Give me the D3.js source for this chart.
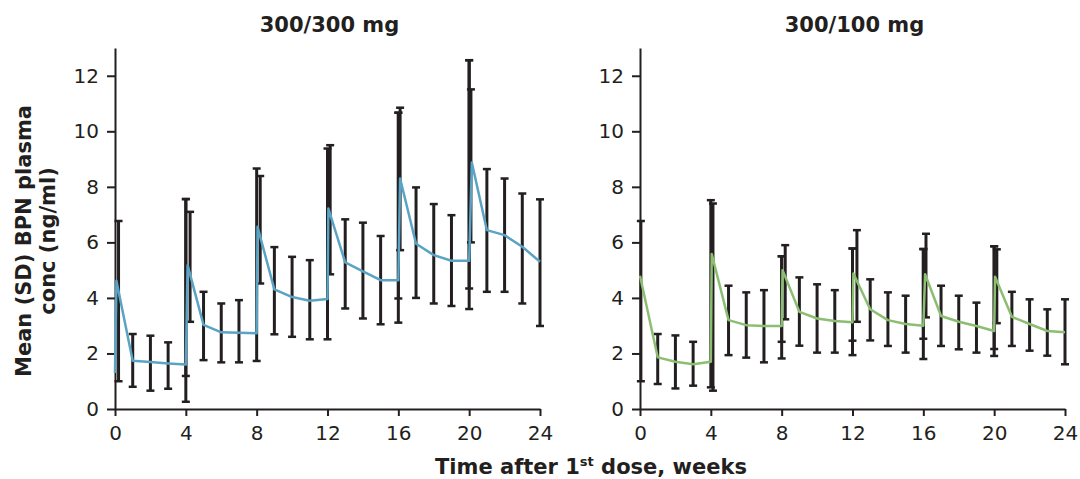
<!DOCTYPE html>
<html>
<head>
<meta charset="utf-8">
<script src="https://cdn.jsdelivr.net/npm/d3@7"></script>
<style>
  body { margin: 0; background: #fff; }
  text { fill: #231f20; }
</style>
</head>
<body>
<svg id="chart"></svg>
<script>
var width = 1080, height = 479;
var ink = "#231f20";
var boldFont = "'DejaVu Sans', sans-serif";

var panelTitles = ["300/300 mg", "300/100 mg"];
var xTicks = [0, 4, 8, 12, 16, 20, 24];
var yTicks = [0, 2, 4, 6, 8, 10, 12];

// 300/300 mg: mean line
var hiLineT = [0, 0.08, 1, 2, 3, 4, 4.1, 5, 6, 7, 8, 8.05, 9, 10, 11, 12, 12.05, 13, 14, 15, 16, 16.1, 17, 18, 19, 20, 20.15, 21, 22, 23, 24];
var hiLineY = [1.3, 4.62, 1.74, 1.69, 1.64, 1.60, 5.18, 3.03, 2.76, 2.75, 2.73, 6.56, 4.31, 4.03, 3.90, 3.96, 7.22, 5.28, 4.96, 4.64, 4.64, 8.30, 5.95, 5.54, 5.34, 5.34, 8.88, 6.44, 6.26, 5.84, 5.30];
// 300/300 mg: SD bars
var hiBarT  = [0.2, 1, 2, 3, 4, 4, 4.24, 5, 6, 7, 8, 8.2, 9, 10, 11, 12, 12.15, 13, 14, 15, 16, 16, 16.1, 17, 18, 19, 20, 20, 20.1, 21, 22, 23, 24];
var hiBarLo = [1.00, 0.80, 0.66, 0.73, 0.26, 1.19, 3.14, 1.76, 1.68, 1.68, 1.73, 4.52, 2.69, 2.60, 2.51, 2.51, 4.85, 3.62, 3.26, 3.05, 3.11, 3.98, 5.72, 4.00, 3.80, 3.71, 3.60, 4.34, 6.00, 4.22, 4.22, 3.80, 2.99];
var hiBarHi = [6.77, 2.70, 2.64, 2.40, 7.56, 7.56, 7.10, 4.22, 3.80, 3.92, 8.66, 8.39, 5.83, 5.48, 5.36, 9.38, 9.50, 6.83, 6.71, 6.23, 10.67, 10.67, 10.85, 7.98, 7.38, 6.98, 12.56, 12.56, 11.51, 8.64, 8.30, 7.76, 7.55];

// 300/100 mg: mean line
var loLineT = [0, 1, 2, 3, 4, 4.05, 5, 6, 7, 8, 8.05, 9, 10, 11, 12, 12.05, 13, 14, 15, 16, 16.1, 17, 18, 19, 20, 20.05, 21, 22, 23, 24];
var loLineY = [4.80, 1.86, 1.70, 1.61, 1.70, 5.58, 3.20, 3.02, 2.99, 2.99, 5.00, 3.50, 3.26, 3.17, 3.12, 4.88, 3.59, 3.20, 3.06, 3.00, 4.85, 3.35, 3.14, 2.99, 2.81, 4.76, 3.32, 3.06, 2.81, 2.76];
// 300/100 mg: SD bars
var loBarT  = [0.05, 1, 2, 3, 4, 4.12, 5, 6, 7, 8, 8, 8.2, 9, 10, 11, 12, 12, 12.25, 13, 14, 15, 16, 16, 16.15, 17, 18, 19, 20, 20, 20.15, 21, 22, 23, 24];
var loBarLo = [1.00, 0.90, 0.74, 0.84, 0.78, 0.66, 1.94, 1.85, 1.68, 1.82, 2.42, 3.23, 2.28, 2.03, 2.03, 1.94, 2.46, 3.14, 2.47, 2.27, 2.03, 1.80, 2.53, 3.30, 2.27, 2.15, 2.03, 1.91, 2.16, 3.09, 2.27, 2.10, 1.92, 1.61];
var loBarHi = [6.77, 2.70, 2.65, 2.42, 7.52, 7.40, 4.44, 4.20, 4.28, 5.50, 5.50, 5.90, 4.74, 4.49, 4.28, 5.78, 5.78, 6.44, 4.67, 4.20, 4.08, 5.76, 5.76, 6.31, 4.44, 4.08, 3.83, 5.86, 5.86, 5.75, 4.22, 3.95, 3.59, 3.95];

var svg = d3.select("#chart")
    .attr("width", width)
    .attr("height", height);

var y = d3.scaleLinear().domain([0, 13]).range([409, 48]);

function drawPanel(x0, title, lineT, lineY, barT, barLo, barHi, color){
    var x = d3.scaleLinear().domain([0, 24]).range([x0, x0 + 425]);
    var g = svg.append("g");

    var yAxis = g.append("g")
	.attr("transform", "translate(" + x0 + ",0)")
	.call(d3.axisLeft(y).tickValues(yTicks).tickSize(8).tickPadding(8).tickSizeOuter(0));
    var xAxis = g.append("g")
	.attr("transform", "translate(0," + y(0) + ")")
	.call(d3.axisBottom(x).tickValues(xTicks).tickSize(7).tickPadding(10).tickSizeOuter(0));

    [yAxis, xAxis].forEach(function(a){
	a.selectAll("path, line").attr("stroke", ink).attr("stroke-width", 2);
	a.selectAll("text")
	    .style("font-family", "'DejaVu Sans', sans-serif")
	    .style("font-weight", 400)
	    .style("font-size", "20px")
	    .attr("fill", "#2b2b2b");
    });

    var bars = g.selectAll(".sd")
	.data(d3.range(barT.length))
	.enter().append("g")
	.attr("class", "sd")
	.attr("stroke", ink);
    bars.append("line")
	.attr("x1", function(i){ return x(barT[i]); })
	.attr("x2", function(i){ return x(barT[i]); })
	.attr("y1", function(i){ return y(barLo[i]); })
	.attr("y2", function(i){ return y(barHi[i]); })
	.attr("stroke-width", 3);
    bars.selectAll(".cap")
	.data(function(i){ return [[barT[i], barLo[i]], [barT[i], barHi[i]]]; })
	.enter().append("line")
	.attr("class", "cap")
	.attr("x1", function(d){ return x(d[0]) - 4; })
	.attr("x2", function(d){ return x(d[0]) + 4; })
	.attr("y1", function(d){ return y(d[1]); })
	.attr("y2", function(d){ return y(d[1]); })
	.attr("stroke-width", 2.5);

    var line = d3.line()
	.x(function(i){ return x(lineT[i]); })
	.y(function(i){ return y(lineY[i]); });
    g.append("path")
	.datum(d3.range(lineT.length))
	.attr("d", line)
	.attr("fill", "none")
	.attr("stroke", color)
	.attr("stroke-width", 2.5)
	.attr("stroke-linejoin", "round");

    g.append("text")
	.text(title)
	.attr("x", x(12) + 2)
	.attr("y", 32)
	.attr("text-anchor", "middle")
	.style("font-family", boldFont)
	.style("font-weight", 700)
	.style("font-size", "21px");
}

drawPanel(115, panelTitles[0], hiLineT, hiLineY, hiBarT, hiBarLo, hiBarHi, "#5aa3c4");
drawPanel(640, panelTitles[1], loLineT, loLineY, loBarT, loBarLo, loBarHi, "#8cbe72");

// axis titles
var yTitle = svg.append("text")
    .attr("transform", "translate(31,241) rotate(-90)")
    .attr("text-anchor", "middle")
    .style("font-family", boldFont)
    .style("font-weight", 700)
    .style("font-size", "21px");
yTitle.append("tspan").attr("x", 0).attr("y", 0).text("Mean (SD) BPN plasma");
yTitle.append("tspan").attr("x", 0).attr("y", 24).text("conc (ng/ml)");

var xTitle = svg.append("text")
    .attr("x", 591)
    .attr("y", 474)
    .attr("text-anchor", "middle")
    .style("font-family", boldFont)
    .style("font-weight", 700)
    .style("font-size", "21px");
xTitle.append("tspan").text("Time after 1");
xTitle.append("tspan").attr("dy", -8).style("font-size", "13px").text("st");
xTitle.append("tspan").attr("dy", 8).text(" dose, weeks");
</script>
</body>
</html>
